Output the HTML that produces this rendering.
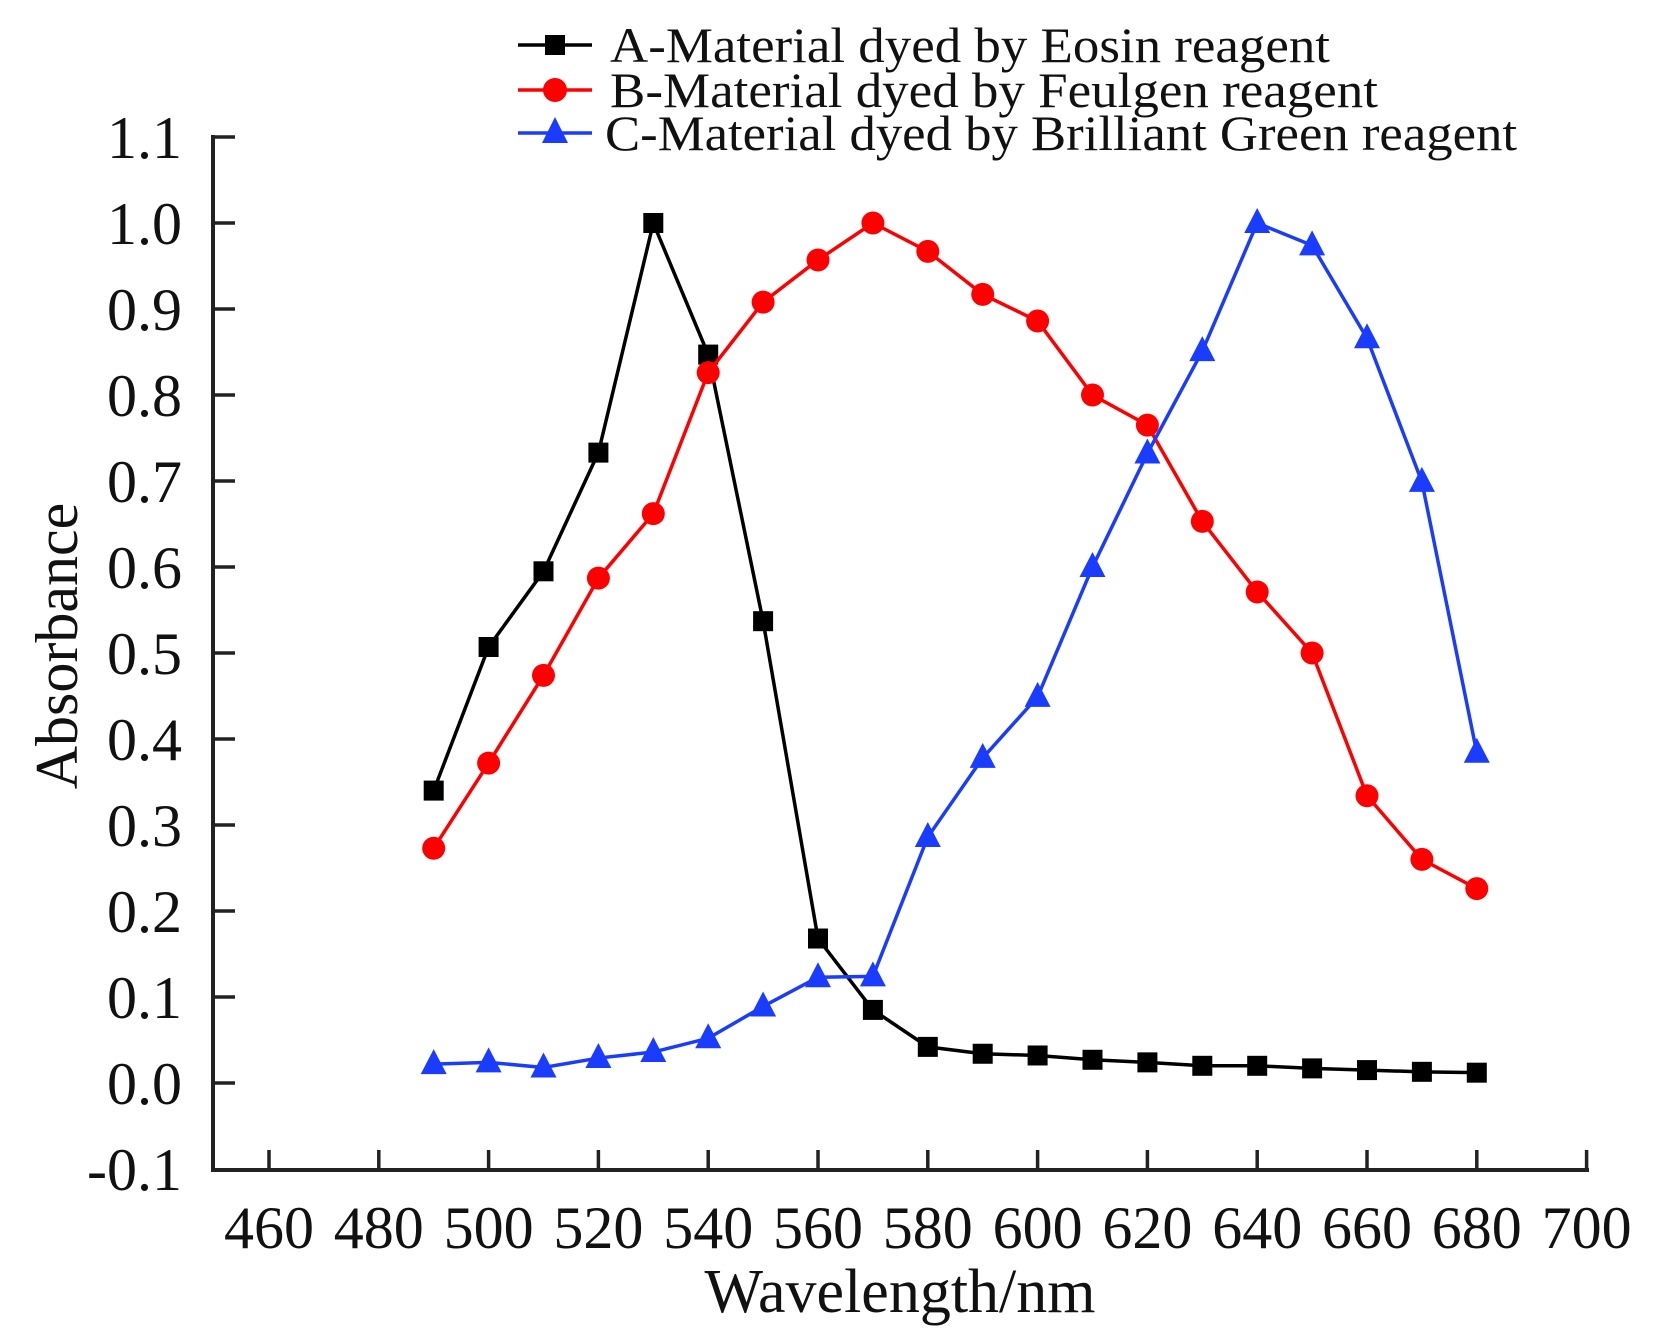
<!DOCTYPE html>
<html><head><meta charset="utf-8"><style>
html,body{margin:0;padding:0;background:#fff;}
svg{display:block;font-family:"Liberation Serif",serif;}
</style></head><body>
<svg id="s" width="1665" height="1344" viewBox="0 0 1665 1344" xmlns="http://www.w3.org/2000/svg">
<rect width="1665" height="1344" fill="#fff"/>
<g id="axes" stroke="#222" stroke-width="4" fill="none">
<line x1="213" y1="135" x2="213" y2="1172"/>
<line x1="211" y1="1170" x2="1589" y2="1170"/>
</g>
<g id="ticks" stroke="#222" stroke-width="3.5"></g>
<g id="ylab" font-size="60" text-anchor="end" fill="#111"></g>
<g id="xlab" font-size="60" text-anchor="middle" fill="#111"></g>
<text x="900" y="1312" font-size="62" text-anchor="middle" fill="#111">Wavelength/nm</text>
<text transform="translate(77,646) rotate(-90)" font-size="60" text-anchor="middle" fill="#111">Absorbance</text>
<g id="series"></g>
<g font-size="50" fill="#111">
<line x1="518" y1="45" x2="592" y2="45" stroke="#000" stroke-width="3.5"/>
<rect x="545" y="35" width="20" height="20" fill="#000"/>
<text x="610" y="62" textLength="720" lengthAdjust="spacingAndGlyphs">A-Material dyed by Eosin reagent</text>
<line x1="518" y1="90" x2="592" y2="90" stroke="#f00" stroke-width="3.5"/>
<circle cx="555" cy="90" r="12" fill="#f00"/>
<text x="610" y="107" textLength="768" lengthAdjust="spacingAndGlyphs">B-Material dyed by Feulgen reagent</text>
<line x1="518" y1="133" x2="592" y2="133" stroke="#1a3cff" stroke-width="3.5"/>
<polygon points="555,117 542,143 568,143" fill="#1a3cff"/>
<text x="605" y="150" textLength="912" lengthAdjust="spacingAndGlyphs">C-Material dyed by Brilliant Green reagent</text>
</g>
</svg>
<script>
var NS="http://www.w3.org/2000/svg";
function X(w){return 269+(w-460)*5.49;}
function Y(v){return 223+(1.0-v)*860;}
function el(t,a,p){var e=document.createElementNS(NS,t);for(var k in a)e.setAttribute(k,a[k]);p.appendChild(e);return e;}
var tk=document.getElementById('ticks'),yl=document.getElementById('ylab'),xl=document.getElementById('xlab');
for(var i=-1;i<=11;i++){var y=Y(i/10);
 if(i>-1) el('line',{x1:213,y1:y,x2:235,y2:y},tk);
 var t=el('text',{x:182,y:y+21},yl);t.textContent=(i<0?'-0.1':(i/10).toFixed(1));}
for(var w=460;w<=700;w+=20){var x=X(w);el('line',{x1:x,y1:1170,x2:x,y2:1150},tk);
 var t=el('text',{x:x,y:1248},xl);t.textContent=w;}
var A=[.34,.507,.595,.733,1.0,.847,.537,.168,.085,.042,.034,.032,.027,.024,.02,.02,.017,.015,.013,.012];
var B=[.273,.372,.474,.587,.662,.826,.908,.957,1.0,.967,.917,.886,.8,.765,.653,.571,.5,.334,.26,.226];
var C=[.022,.024,.018,.029,.036,.052,.089,.123,.124,.286,.378,.449,.6,.732,.851,1.0,.974,.866,.699,.384];
var sg=document.getElementById('series');
function draw(d,col,m){var pts=d.map(function(v,i){return X(490+10*i)+','+Y(v);}).join(' ');
 el('polyline',{points:pts,fill:'none',stroke:col,'stroke-width':3.5},sg);
 d.forEach(function(v,i){var x=X(490+10*i),y=Y(v);
  if(m=='s')el('rect',{x:x-10,y:y-10,width:20,height:20,fill:col},sg);
  else if(m=='c')el('circle',{cx:x,cy:y,r:11.5,fill:col},sg);
  else el('polygon',{points:(x)+','+(y-15)+' '+(x-13)+','+(y+10)+' '+(x+13)+','+(y+10),fill:col},sg);});}
draw(A,'#000','s');draw(B,'#f00','c');draw(C,'#1a3cff','t');
</script>
</body></html>
